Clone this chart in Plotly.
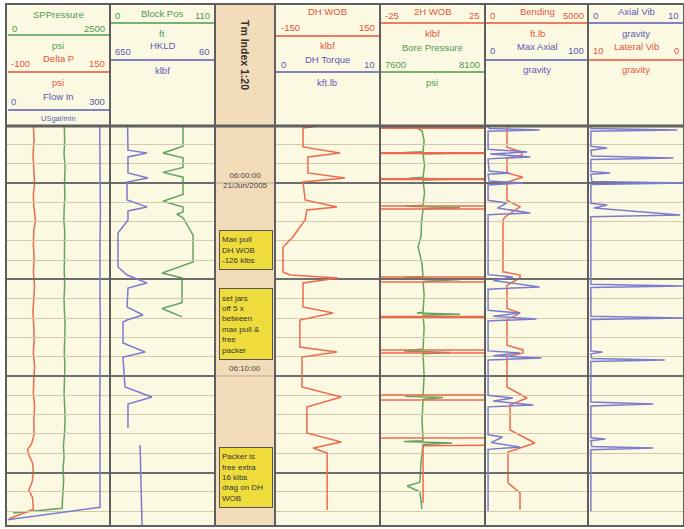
import plotly.graph_objects as go

# ---------------- data (time in minutes after 06:00:00, values in curve units) ----------------
# Track 1
dp_t = [-2.9, -2.2, -1.5, -0.8, 0.0, 0.6, 1.2, 1.9, 2.5, 3.2, 3.9, 4.6, 5.3, 6.0, 6.7, 7.4, 8.1, 8.8, 9.5,
        10.2, 10.9, 11.6, 12.3, 13.0, 13.5, 13.8, 14.1, 14.5, 15.0, 15.5, 15.9, 16.3, 16.9, 17.4]
delta_p = [-36, -34, -37, -35, -33, -36, -35, -31, -35, -36, -34, -36, -33, -35, -37, -35, -34, -36, -33,
           -35, -36, -33, -35, -34, -40, -50, -47, -38, -36, -39, -47, -38, -36, -95]
spp_t = [-2.9, -2.2, -1.5, -0.8, 0.0, 0.6, 1.2, 1.9, 2.5, 3.2, 3.9, 4.6, 5.3, 6.0, 6.7, 7.4, 8.1, 8.8, 9.5,
         10.2, 10.9, 11.6, 12.3, 13.0, 13.6, 14.2, 14.8, 15.4, 16.0, 16.5, 16.85, 17.1]
sp_pressure = [1390, 1400, 1385, 1410, 1395, 1405, 1390, 1380, 1400, 1395, 1405, 1390, 1400, 1385, 1395, 1410,
               1400, 1390, 1405, 1395, 1385, 1400, 1410, 1395, 1370, 1385, 1360, 1375, 1350, 1345, 1340, 150]
flow_t = [-2.9, -1.5, 0.0, 1.5, 3.0, 4.5, 6.0, 7.5, 9.0, 10.5, 12.0, 13.5, 15.0, 16.0, 16.8, 17.45]
flow_in = [270, 271, 270, 272, 271, 270, 271, 272, 271, 270, 270, 271, 270, 271, 271, 2]

# Track 2
hk_t = [-2.9, -1.7, -1.55, -1.35, -0.52, -0.26, -0.05, 0.88, 1.24, 1.45, 1.92, 2.59, 4.35, 4.77, 5.18, 5.44,
        6.42, 6.84, 7.1, 7.2, 8.29, 8.76, 9.02, 10.57, 11.09, 11.45, 12.69, 13.1, 13.58, 17.72]
hookload = [551, 549, 442, 549, 549, 436, 554, 554, 442, 549, 549, 605, 605, 554, 442, 549,
            554, 465, 554, 577, 577, 453, 577, 566, 414, 549, 549, None, 481, 470]
bp_t = [-2.9, -1.9, -1.55, -1.3, -0.8, -0.55, -0.3, 0.6, 0.95, 1.25, 1.5, 1.62, 1.8, 2.7, 4.09, 4.2, 4.66,
        4.92, 6.2, 6.5, 6.94]
block_pos = [76.5, 76.5, 55.5, 76.5, 76.5, 55.5, 76.5, 76.5, 55.5, 76.5, 76.5, 70, 76.5, 87, 87, 80.7, 54.5,
             75.4, 75.4, 54.5, 75.4]

# Track 3
wob_t = [-2.95, -2.85, -1.87, -1.55, -1.35, -0.52, -0.26, -0.05, 0.88, 1.24, 1.40, 1.92, 2.80, 3.21, 3.32,
         4.61, 4.77, 4.92, 5.18, 6.42, 6.74, 7.10, 8.50, 8.76, 9.02, 10.57, 11.09, 11.61, 12.95, 13.42, 13.73,
         13.99, 16.94]
dh_wob = [-27, -70, -70, 36, -56, -56, 50, -70, -64, 27, -59, -64, -99, -121, -127,
          -127, -107, 30, -70, -70, 16, -79, -79, 27, -73, -73, 39, -59, -59, 39, -41,
          -1, -1]

# Track 4
w2_t = [-2.95, -2.86, -2.86, -2.83, -2.83, -1.57, -1.57, -1.53, -1.53, -0.22, -0.22, -0.18, -0.18,
        1.19, 1.19, 1.35, 1.35, 4.87, 4.87, 5.13, 5.13, 6.92, 6.92, 6.96, 6.96, 8.65, 8.65, 8.81, 8.81,
        10.98, 10.98, 11.24, 11.24, 13.21, 13.21, 13.58, 13.62, 16.58]
wob_2h = [-40, -40, 40, 40, -40, -40, 40, 40, -40, -40, 40, 40, -40,
          -40, 40, 40, -40, -40, 40, 40, -40, -40, 40, 40, -40, -40, 40, 40, -40,
          -40, 40, 40, -40, -40, 40, 40, -4.5, -4.5]
bo_t = [-2.95, -2.7, -2.2, -1.62, -1.58, -1.55, -1.5, -0.9, -0.3, -0.25, -0.2, -0.15, 0.5, 1.15, 1.2, 1.28,
        1.35, 2.0, 2.8, 3.3, 3.7, 4.2, 4.85, 4.9, 5.0, 5.1, 5.8, 6.7, 6.74, 6.8, 6.85, 7.5, 8.6, 8.7, 8.78,
        8.85, 10.0, 11.0, 11.05, 11.12, 11.2, 12.3, 13.35, 13.4, 13.47, 13.55, 14.5, 15.5, 15.7, 16.0, 16.9]
bore_p = [7757, 7800, 7810, 7805, 7719, 7981, 7805, 7812, 7805, 7740, 7960, 7805, 7812, 7805, 7719, 7981,
          7805, 7798, 7795, 7781, 7790, 7800, 7805, 7719, 7981, 7805, 7810, 7805, 7776, 7981, 7805, 7810,
          7805, 7714, 7933, 7805, 7810, 7805, 7719, 7900, 7805, 7800, 7805, 7714, 7943, 7805, 7795, 7790,
          7729, 7790, 7800]

# Track 5
be_t = [-2.95, -1.85, -1.6, -1.45, -1.3, -0.52, -0.3, -0.05, 0.9, 1.24, 1.76, 1.92, 4.6, 4.77, 4.92, 5.3,
        6.5, 6.74, 7.1, 8.4, 8.65, 8.81, 9.0, 10.57, 11.14, 11.5, 12.8, 13.47, 13.94, 15.54, 16.06, 16.94]
bending = [1068, 1068, 1796, 1796, 1068, 1068, 1845, 1068, 1068, 1699, 970, 874, 874, 1699, 1699, 1068,
           1068, 1699, 1068, 1068, 1845, 1845, 1068, 1068, 2039, 1214, 1214, 2427, 1117, 1117, 1699, 1699]
ma_t = [-2.95, -2.82, -2.75, -2.68, -1.75, -1.61, -1.5, -1.35, -1.25, -0.62, -0.52, -0.45, -0.1, 0.0, 0.1,
        0.9, 1.04, 1.3, 1.55, 1.65, 4.75, 4.87, 5.05, 5.39, 5.5, 6.6, 6.74, 6.9, 7.05, 7.15, 8.7, 8.81, 8.95,
        9.07, 9.17, 11.0, 11.14, 11.3, 11.5, 11.6, 13.05, 13.16, 13.45, 13.68, 13.8, 17.0]
max_axial = [3, 4, 53, 3, 3, 41, 5, 44, 3, 4, 24, 3, 4, 37, 3,
             3, 21, 12, 44, 3, 3, 27, 8, 53, 3, 3, 34, 8, 50, 3, 3, 34, 8,
             55, 3, 3, 27, 8, 47, 3, 3, 17, 6, 34, 3, 3]

# Track 6
av_t = [-2.95, -2.82, -2.75, -2.68, -1.9, -1.81, -1.7, -1.4, -1.3, -1.22, -0.6, -0.52, -0.45, -0.08, 0.0,
        0.08, 1.05, 1.14, 1.3, 1.66, 1.75, 5.25, 5.34, 5.42, 6.9, 6.99, 7.07, 8.7, 8.76, 8.85, 9.1, 9.17,
        9.25, 11.35, 11.45, 11.55, 13.2, 13.26, 13.35, 13.65, 13.73, 13.82, 17.0]
axial_vib = [0.3, 0.3, 9.3, 0.3, 0.3, 2.0, 0.3, 0.4, 8.9, 0.3, 0.3, 2.3, 0.3, 0.4, 10.5,
             0.3, 0.3, 2.0, 0.6, 9.6, 0.3, 0.3, 9.9, 0.3, 0.3, 9.9, 0.3, 0.3, 1.5, 0.3, 0.4, 8.0,
             0.3, 0.3, 6.8, 0.3, 0.3, 1.8, 0.3, 0.4, 6.8, 0.3, 0.3]

time_labels = ["06:00:00<br>21/Jun/2005", "06:10:00"]
time_label_pos = [-0.15, 9.6]
notes = ["Max pull<br>DH WOB<br>-126 klbs",
         "set jars<br>off 5 x<br>between<br>max pull &<br>free<br>packer",
         "Packer is<br>free extra<br>16 klbs<br>drag on DH<br>WOB"]
note_pos = [3.48, 7.3, 15.26]
note_h = [34, 66, 55]

# ---------------- layout helpers ----------------
W, H = 684, 529
FONT = "Liberation Sans"
def fx(px): return px / W
def fy(py): return 1 - py / H

RED, GREEN, BLUE = "#ee6a4c", "#62a462", "#7c7cce"
TRED, TGREEN, TBLUE = "#e4553a", "#4f9a4f", "#5a5ab4"
MINOR = "#d3caac"
MAJOR = "#6e6e6e"
EDGE = "#5f5f5f"
HS = 9.5  # header font size

tracks = [(7, 110), (110, 215), (275, 380), (380, 485), (485, 588), (588, 684)]
Y_RANGE = [17.72, -2.90]

curves = [
    (0, "SPPressure", spp_t, sp_pressure, 0, 2500, GREEN),
    (0, "Delta P", dp_t, delta_p, -100, 150, RED),
    (0, "Flow In", flow_t, flow_in, 0, 300, BLUE),
    (1, "Block Pos", bp_t, block_pos, 0, 110, GREEN),
    (1, "HKLD", hk_t, hookload, 650, 60, BLUE),
    (2, "DH WOB", wob_t, dh_wob, -150, 150, RED),
    (3, "Bore Pressure", bo_t, bore_p, 7600, 8100, GREEN),
    (3, "2H WOB", w2_t, wob_2h, -25, 25, RED),
    (4, "Bending", be_t, bending, 0, 5000, RED),
    (4, "Max Axial", ma_t, max_axial, 0, 100, BLUE),
    (5, "Axial Vib", av_t, axial_vib, 0, 10, BLUE),
]

fig = go.Figure()
layout = dict(width=W, height=H, margin=dict(l=0, r=0, t=0, b=0), autosize=False,
              paper_bgcolor="white", plot_bgcolor="rgba(0,0,0,0)", showlegend=False)

def axname(i):
    return "xaxis" if i == 1 else f"xaxis{i}"
def axref(i):
    return "x" if i == 1 else f"x{i}"

for i, (a, b) in enumerate(tracks, start=1):
    layout[axname(i)] = dict(domain=[fx(a), fx(b)], range=[0, 5], dtick=1, tick0=0, anchor="y",
                             showgrid=True, gridcolor=MINOR, gridwidth=1, zeroline=False,
                             showticklabels=False, ticks="", showline=False, fixedrange=True)

layout["yaxis"] = dict(domain=[fy(525), fy(127)], range=Y_RANGE, anchor="x", showticklabels=False,
                       ticks="", zeroline=False, showline=False, showgrid=True, dtick=5, tick0=0,
                       gridcolor=MAJOR, gridwidth=2,
                       minor=dict(dtick=1, tick0=0, showgrid=True, gridcolor=MINOR, gridwidth=1, ticks=""))

k = len(tracks) + 1
for (tr, name, t, v, lo, hi, col) in curves:
    layout[axname(k)] = dict(overlaying=axref(tr + 1), domain=layout[axname(tr + 1)]["domain"],
                             range=[lo, hi], anchor="y", visible=False, showgrid=False, zeroline=False)
    fig.add_trace(go.Scatter(x=v, y=t, xaxis=axref(k), yaxis="y", mode="lines", name=name,
                             line=dict(color=col, width=1.5), connectgaps=False, hoverinfo="skip"))
    k += 1

shapes = []
ann = []

def hline(py, a, b, color, w=1.5):
    shapes.append(dict(type="line", xref="paper", yref="paper", x0=fx(a), x1=fx(b), y0=fy(py), y1=fy(py),
                       line=dict(color=color, width=w), layer="above"))

def txt(x, y, s, color, anchor="center", size=HS):
    ann.append(dict(x=fx(x), y=fy(y), xref="paper", yref="paper", text=s, showarrow=False,
                    font=dict(size=size, color=color, family=FONT), xanchor=anchor, yanchor="middle"))

# background panels
shapes.append(dict(type="rect", xref="paper", yref="paper", x0=fx(6), x1=fx(684), y0=fy(526), y1=fy(4),
                   fillcolor="#fcf9e3", line=dict(width=0), layer="below"))
shapes.append(dict(type="rect", xref="paper", yref="paper", x0=fx(215), x1=fx(275), y0=fy(525), y1=fy(5),
                   fillcolor="#f3dcba", line=dict(width=0), layer="below"))
for tv in [0, 10]:
    shapes.append(dict(type="line", xref="paper", yref="y", x0=fx(215), x1=fx(275), y0=tv, y1=tv,
                       line=dict(color="#b9aa90", width=1), layer="below"))

hdr = [
    (7, 110, [(35, TGREEN), (72, TRED), (110, TBLUE)]),
    (110, 215, [(23, TGREEN), (60, TBLUE)]),
    (275, 380, [(36, TRED), (72, TBLUE)]),
    (380, 485, [(23, TRED), (72, TGREEN)]),
    (485, 588, [(23, TRED), (60, TBLUE)]),
    (588, 684, [(23, TBLUE), (60, TRED)]),
]
for a, b, lines in hdr:
    for py, c in lines:
        hline(py, a + 1, b - 1, c, 1.5)

# Track 1
txt(58, 14, "SPPressure", TGREEN)
txt(10, 29, "0", TGREEN, "left"); txt(107, 29, "2500", TGREEN, "right")
txt(58, 45, "psi", TGREEN)
txt(58, 59, "Delta P", TRED)
txt(9, 63, "-100", TRED, "left"); txt(107, 63, "150", TRED, "right")
txt(58, 82, "psi", TRED)
txt(58, 97, "Flow In", TBLUE)
txt(9, 101, "0", TBLUE, "left"); txt(107, 101, "300", TBLUE, "right")
txt(58, 118, "USgal/min", TBLUE, size=7.5)
# Track 2
txt(162, 13, "Block Pos", TGREEN)
txt(113, 16, "0", TGREEN, "left"); txt(212, 16, "110", TGREEN, "right")
txt(162, 33, "ft", TGREEN)
txt(162, 45, "HKLD", TBLUE)
txt(113, 51, "650", TBLUE, "left"); txt(212, 51, "60", TBLUE, "right")
txt(162, 71, "klbf", TBLUE)
# Time track header
ann.append(dict(x=fx(245), y=fy(55), xref="paper", yref="paper", text="<b>Tm Index 1:20</b>", showarrow=False,
                textangle=90, xanchor="center", yanchor="middle",
                font=dict(size=10.5, color="#333", family=FONT)))
# Track 3
txt(327, 12, "DH WOB", TRED)
txt(279, 28, "-150", TRED, "left"); txt(377, 28, "150", TRED, "right")
txt(327, 45, "klbf", TRED)
txt(327, 60, "DH Torque", TBLUE)
txt(279, 65, "0", TBLUE, "left"); txt(377, 65, "10", TBLUE, "right")
txt(327, 83, "kft.lb", TBLUE)
# Track 4
txt(432, 12, "2H WOB", TRED)
txt(383, 15, "-25", TRED, "left"); txt(482, 15, "25", TRED, "right")
txt(432, 33, "klbf", TRED)
txt(432, 48, "Bore Pressure", TGREEN)
txt(383, 64, "7600", TGREEN, "left"); txt(482, 64, "8100", TGREEN, "right")
txt(432, 82, "psi", TGREEN)
# Track 5
txt(537, 12, "Bending", TRED)
txt(488, 15, "0", TRED, "left"); txt(586, 15, "5000", TRED, "right")
txt(537, 33, "ft.lb", TRED)
txt(537, 47, "Max Axial", TBLUE)
txt(488, 50, "0", TBLUE, "left"); txt(586, 50, "100", TBLUE, "right")
txt(537, 70, "gravity", TBLUE)
# Track 6
txt(636, 12, "Axial Vib", TBLUE)
txt(591, 15, "0", TBLUE, "left"); txt(681, 15, "10", TBLUE, "right")
txt(636, 33, "gravity", TBLUE)
txt(636, 47, "Lateral Vib", TRED)
txt(591, 50, "10", TRED, "left"); txt(681, 50, "0", TRED, "right")
txt(636, 70, "gravity", TRED)

for s, tv in zip(time_labels, time_label_pos):
    ann.append(dict(x=fx(245), y=tv, xref="paper", yref="y", text=s, showarrow=False,
                    font=dict(size=8, color="#444", family=FONT), xanchor="center", yanchor="middle"))
for s, tv, h in zip(notes, note_pos, note_h):
    ann.append(dict(x=fx(246), y=tv, xref="paper", yref="y", text=s, showarrow=False, align="left",
                    font=dict(size=8, color="#333", family=FONT), xanchor="center", yanchor="middle",
                    bgcolor="#eedb3c", bordercolor="#555", borderwidth=1, borderpad=2, width=48, height=h))

hline(126, 6, 684, EDGE, 3)
for xv in [110, 215, 275, 380, 485, 588]:
    shapes.append(dict(type="line", xref="paper", yref="paper", x0=fx(xv), x1=fx(xv), y0=fy(525), y1=fy(5),
                       line=dict(color=EDGE, width=2), layer="above"))
shapes.append(dict(type="rect", xref="paper", yref="paper", x0=fx(6), x1=fx(684), y0=fy(526), y1=fy(4),
                   line=dict(color=EDGE, width=2), layer="above"))

layout["shapes"] = shapes
layout["annotations"] = ann
fig.update_layout(**layout)
fig.write_html("out.html", config={"displayModeBar": False, "staticPlot": True},
               post_script="document.body.style.margin='0';document.body.style.overflow='hidden';")
